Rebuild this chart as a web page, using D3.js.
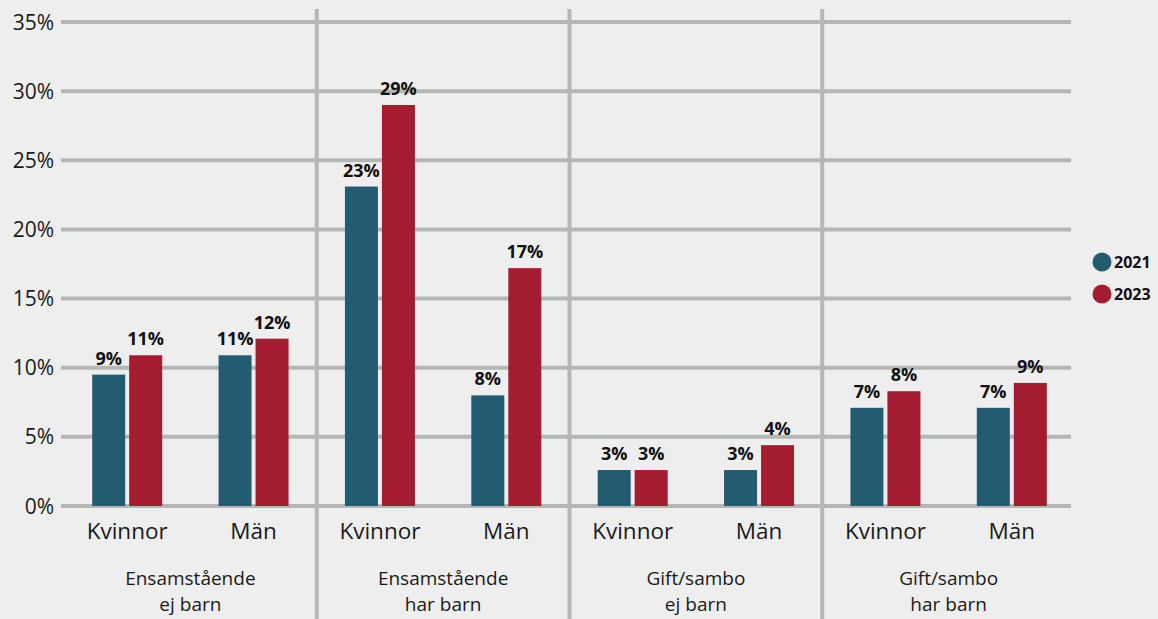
<!doctype html>
<html>
<head>
  <meta charset="utf-8">
  <script src="https://d3js.org/d3.v7.min.js"></script>
  <style>
    body { margin: 0; background: #eeeeee; }
    svg { display: block; font-family: "Open Sans", sans-serif; }
    .grid line { stroke: #b4b7b5; stroke-width: 4; }
    .ytick text { font-size: 21px; fill: #1a1a1a; }
    .cat { font-size: 22.5px; fill: #1a1a1a; }
    .grp { font-size: 19px; fill: #1a1a1a; }
    .val { font-size: 18px; font-weight: 700; fill: #111; }
    .leg { font-size: 16px; font-weight: 700; fill: #111; }
  </style>
</head>
<body>
<script>
  var groups = ["Ensamstående\nej barn", "Ensamstående\nhar barn", "Gift/sambo\nej barn", "Gift/sambo\nhar barn"];
  var genders = ["Kvinnor", "Män"];
  var series = ["2021", "2023"];
  var colors = ["#235c70", "#a31c30"];

  // values per category in order: group x gender
  var values2021 = [9.5, 10.9, 23.1, 8.0, 2.6, 2.6, 7.1, 7.1];
  var values2023 = [10.9, 12.1, 29.0, 17.2, 2.6, 4.4, 8.3, 8.9];
  var labels2021 = ["9%", "11%", "23%", "8%", "3%", "3%", "7%", "7%"];
  var labels2023 = ["11%", "12%", "29%", "17%", "3%", "4%", "8%", "9%"];
  var yTicks = [0, 5, 10, 15, 20, 25, 30, 35];

  var width = 1158, height = 619;
  var svg = d3.select("body").append("svg")
    .attr("width", width).attr("height", height);

  var cats = [];
  groups.forEach(function (g, gi) {
    genders.forEach(function (s, si) {
      cats.push({ id: gi + "-" + si, group: gi, gender: s, idx: cats.length });
    });
  });

  var x0 = 64, x1 = 1075;
  var step = (x1 - x0) / cats.length;
  var x = d3.scaleBand().domain(cats.map(function (d) { return d.id; }))
    .range([x0, x1]).paddingInner((step - 70) / step).paddingOuter((step - 70) / step / 2);
  var xs = d3.scaleBand().domain(series).range([0, x.bandwidth()]).paddingInner(0.108);
  var y = d3.scaleLinear().domain([0, 35]).range([506, 22]);

  // gridlines
  var grid = svg.append("g").attr("class", "grid");
  grid.selectAll("line").data(yTicks).enter().append("line")
    .attr("x1", 61).attr("x2", 1071)
    .attr("y1", function (d) { return y(d); })
    .attr("y2", function (d) { return y(d); });

  // y labels
  svg.append("g").attr("class", "ytick").selectAll("text").data(yTicks).enter().append("text")
    .attr("x", 54).attr("y", function (d) { return y(d); })
    .attr("dy", "0.36em").attr("text-anchor", "end")
    .text(function (d) { return d + "%"; });

  // group separators
  var groupStep = x.step() * 2;
  svg.append("g").attr("class", "grid").selectAll("line").data([1, 2, 3]).enter().append("line")
    .attr("x1", function (d) { return x0 + d * groupStep; })
    .attr("x2", function (d) { return x0 + d * groupStep; })
    .attr("y1", 9).attr("y2", height);

  // bars
  var vals = [values2021, values2023];
  var labs = [labels2021, labels2023];
  series.forEach(function (s, k) {
    var g = svg.append("g");
    g.selectAll("rect").data(cats).enter().append("rect")
      .attr("x", function (d) { return x(d.id) + xs(s); })
      .attr("width", xs.bandwidth())
      .attr("y", function (d) { return y(vals[k][d.idx]); })
      .attr("height", function (d) { return y(0) - y(vals[k][d.idx]); })
      .attr("fill", colors[k]);
    g.selectAll("text").data(cats).enter().append("text")
      .attr("class", "val")
      .attr("x", function (d) { return x(d.id) + xs(s) + xs.bandwidth() / 2; })
      .attr("y", function (d) { return y(vals[k][d.idx]) - 10; })
      .attr("text-anchor", "middle")
      .text(function (d) { return labs[k][d.idx]; });
  });

  // category labels
  svg.append("g").selectAll("text").data(cats).enter().append("text")
    .attr("class", "cat")
    .attr("x", function (d) { return x(d.id) + x.bandwidth() / 2; })
    .attr("y", 539).attr("text-anchor", "middle")
    .text(function (d) { return d.gender; });

  // group labels, two lines each
  var lines = [];
  groups.forEach(function (g, i) {
    g.split("\n").forEach(function (t, j) { lines.push({ group: i, line: j, text: t }); });
  });
  svg.append("g").selectAll("text").data(lines).enter().append("text")
    .attr("class", "grp")
    .attr("text-anchor", "middle")
    .attr("x", function (d) { return x0 + d.group * groupStep + groupStep / 2; })
    .attr("y", function (d) { return 585 + d.line * 26; })
    .text(function (d) { return d.text; });

  // legend
  var leg = svg.append("g").selectAll("g").data(series).enter().append("g")
    .attr("transform", function (d, i) { return "translate(1102," + (262 + i * 32) + ")"; });
  leg.append("circle").attr("r", 9.5).attr("fill", function (d, i) { return colors[i]; });
  leg.append("text").attr("class", "leg").attr("x", 12).attr("dy", "0.36em")
    .text(function (d) { return d; });
</script>
</body>
</html>
